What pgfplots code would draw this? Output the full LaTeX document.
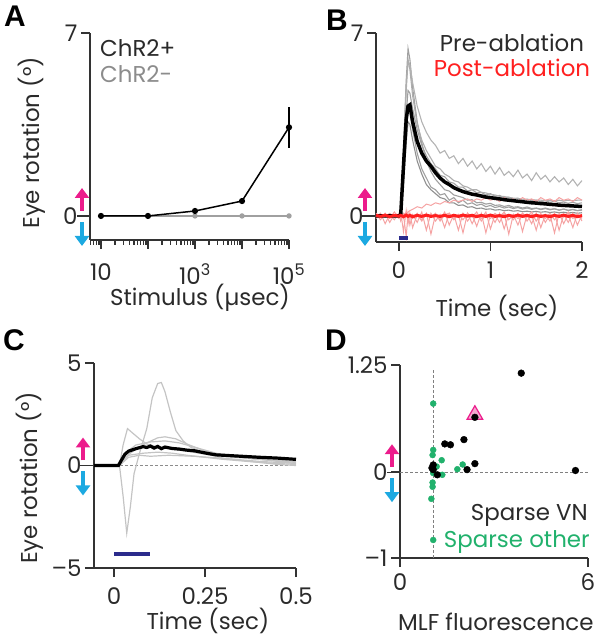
\documentclass[border=0pt]{standalone}
\usepackage{fontspec}
\setmainfont{Poppins}
\newfontfamily\letterfont{Liberation Sans}
\usepackage{pgfplots}
\usepackage{pgfplotstable}
\pgfplotsset{compat=1.18}
\usetikzlibrary{arrows.meta}

\definecolor{axc}{HTML}{333333}
\definecolor{txt}{HTML}{2A2A2A}
\definecolor{mag}{HTML}{EC1C8C}
\definecolor{cyn}{HTML}{1CA9E1}
\definecolor{navy}{HTML}{2B2B8C}
\definecolor{redln}{HTML}{FF2020}
\definecolor{ltred}{HTML}{F5A3A3}
\definecolor{grn}{HTML}{21B16C}
\definecolor{pinkfill}{HTML}{F5A9CF}
\definecolor{trace}{HTML}{A0A0A0}
\definecolor{ltrace}{HTML}{C4C4C4}

\newcommand\fs{\fontsize{23}{26}\selectfont}
\newcommand\lf{\letterfont\bfseries\fontsize{30}{32}\selectfont}

\pgfplotsset{
  panel/.style={
    scale only axis,
    anchor=south west,
    axis lines=left,
    axis line style={-, line width=1.3bp, axc},
    xmajorticks=true, ymajorticks=true,
    xtick align=outside, ytick align=outside,
    tick style={draw=axc, line width=1.5bp},
    tickwidth=9bp, subtickwidth=5bp,
    ticklabel style={font=\fs, text=txt},
    label style={font=\fs, text=txt},
    clip=false,
  },
}

% panel B: single traces (grey = pre, light red = post), means m / rm
\pgfplotstableread{
t      g1   g2   g3   g4   g5   g6   m    r1    r2    r3    r4    rm
-0.25  0    0    0    0    0    0    0    0.05  -0.10 0.10  -0.05 0.02
-0.20  0    0    0    0    0    0    0    -0.15 0.05  -0.05 0.10  -0.02
-0.15  0    0    0    0    0    0    0    0.10  -0.05 0.05  -0.30 0.03
-0.10  0    0    0    0    0    0    0    -0.25 0.10  -0.10 0.05  -0.03
-0.05  0    0    0    0    0    0    0    0.05  -0.05 0.15  -0.15 0.02
0.00   0    0    0    0    0    0    0    -0.10 0.05  -0.05 0.10  -0.01
0.02   0.1  0.1  0.05 0    0.1  0.05 0.05 0.15  -0.10 0.05  -0.20 0.02
0.05   2.5  2.2  1.8  1.2  2.4  1.5  1.9  -0.60 0.10  -0.10 0.05  -0.03
0.08   5.2  4.8  3.9  2.8  5.0  3.4  3.7  0.20  0.05  0.15  -0.80 0.03
0.10   6.4  5.9  4.8  3.6  6.0  4.2  4.2  -0.30 0.15  -0.20 0.10  -0.02
0.12   6.0  5.8  4.7  3.5  5.6  4.0  4.25 0.10  0.20  0.05  -0.35 0.02
0.15   4.9  5.1  4.1  2.9  4.6  3.3  3.6  -0.45 0.25  -0.10 0.05  -0.03
0.20   3.6  4.2  3.3  2.1  3.5  2.4  2.85 0.05  0.35  0.10  -0.25 0.02
0.25   2.8  3.6  2.7  1.6  2.9  1.8  2.4  -0.20 0.30  -0.15 0.15  -0.02
0.30   2.1  3.2  2.3  1.2  2.5  1.45 2.1  0.10  0.45  0.05  -0.55 0.03
0.35   1.7  2.9  2.0  1.0  2.2  1.1  1.9  -0.70 0.40  -0.05 0.10  -0.02
0.40   1.4  2.7  1.8  0.85 1.9  1.0  1.65 0.05  0.50  0.10  -0.20 0.01
0.45   1.2  2.4  1.55 0.7  1.8  0.8  1.45 -0.15 0.45  -0.20 0.05  -0.02
0.50   1.0  2.5  1.5  0.65 1.6  0.85 1.3  0.15  0.55  0.05  -0.45 0.02
0.55   0.95 2.2  1.3  0.5  1.5  0.6  1.2  -0.35 0.50  0.10  0.10  -0.03
0.60   0.8  2.3  1.25 0.5  1.35 0.7  1.08 0.05  0.60  -0.10 -0.15 0.02
0.65   0.75 2.0  1.1  0.4  1.3  0.5  1.0  -0.55 0.55  0.05  0.05  -0.02
0.70   0.7  2.2  1.1  0.42 1.15 0.6  0.93 0.10  0.60  -0.15 -0.65 0.03
0.75   0.6  1.9  0.95 0.33 1.1  0.45 0.88 -0.20 0.65  0.10  0.10  -0.01
0.80   0.62 2.1  1.0  0.35 1.0  0.5  0.83 0.05  0.55  -0.05 -0.30 0.02
0.85   0.5  1.8  0.88 0.28 1.0  0.4  0.8  -0.40 0.65  0.15  0.05  -0.03
0.90   0.52 2.0  0.9  0.3  0.9  0.45 0.76 0.10  0.60  -0.20 -0.10 0.02
0.95   0.45 1.7  0.8  0.25 0.88 0.35 0.72 -0.65 0.70  0.05  0.15  -0.02
1.00   0.48 1.9  0.85 0.27 0.82 0.4  0.7  0.05  0.60  -0.10 -0.50 0.03
1.05   0.4  1.6  0.75 0.22 0.8  0.32 0.67 -0.25 0.65  0.10  0.05  -0.02
1.10   0.42 1.85 0.78 0.24 0.75 0.36 0.65 0.10  0.55  -0.05 -0.25 0.01
1.15   0.36 1.55 0.7  0.2  0.74 0.3  0.62 -0.50 0.70  0.15  0.10  -0.03
1.20   0.4  1.7  0.72 0.22 0.7  0.34 0.6  0.05  0.60  -0.15 -0.70 0.02
1.25   0.33 1.5  0.65 0.18 0.68 0.28 0.58 -0.15 0.65  0.05  0.05  -0.02
1.30   0.35 1.75 0.68 0.2  0.66 0.32 0.56 0.10  0.55  -0.10 -0.35 0.03
1.35   0.3  1.45 0.6  0.16 0.64 0.26 0.54 -0.60 0.70  0.10  0.10  -0.02
1.40   0.34 1.6  0.64 0.18 0.63 0.3  0.52 0.05  0.60  -0.05 -0.20 0.02
1.45   0.28 1.35 0.58 0.15 0.62 0.25 0.5  -0.30 0.65  0.15  0.05  -0.03
1.50   0.3  1.65 0.6  0.17 0.6  0.29 0.49 0.10  0.55  -0.20 -0.55 0.02
1.55   0.26 1.4  0.55 0.14 0.6  0.24 0.47 -0.45 0.70  0.05  0.10  -0.02
1.60   0.3  1.55 0.58 0.16 0.58 0.28 0.46 0.05  0.60  -0.10 -0.25 0.01
1.65   0.25 1.3  0.52 0.13 0.6  0.23 0.44 -0.20 0.65  0.10  0.05  -0.03
1.70   0.27 1.5  0.56 0.15 0.58 0.27 0.43 0.10  0.55  -0.15 -0.65 0.02
1.75   0.22 1.3  0.5  0.12 0.6  0.22 0.41 -0.55 0.70  0.05  0.10  -0.02
1.80   0.26 1.45 0.53 0.14 0.57 0.26 0.4  0.05  0.60  -0.05 -0.30 0.03
1.85   0.21 1.2  0.48 0.11 0.6  0.21 0.39 -0.25 0.65  0.15  0.05  -0.02
1.90   0.24 1.4  0.52 0.13 0.58 0.25 0.38 0.10  0.55  -0.10 -0.45 0.02
1.95   0.2  1.15 0.47 0.1  0.6  0.2  0.37 -0.35 0.70  0.05  0.10  -0.03
2.00   0.22 1.35 0.5  0.12 0.6  0.24 0.36 0.05  0.60  -0.10 -0.20 0.01
}\tabB

\begin{document}
\begin{tikzpicture}
\useasboundingbox (0,0) rectangle (604bp,639bp);

% ---------------- A
\begin{axis}[panel, at={(90bp,399bp)}, width=199bp, height=207bp,
  xmode=log, xmin=5.84, xmax=1e5, ymin=-0.92, ymax=7,
  xtick={10,100,1000,10000,100000},
  minor xtick={6,7,8,9,20,30,40,50,60,70,80,90,200,300,400,500,600,700,800,900,
    2000,3000,4000,5000,6000,7000,8000,9000,20000,30000,40000,50000,60000,70000,80000,90000},
  xticklabels={10,,10\textsuperscript{3},,10\textsuperscript{5}},
  xticklabel style={yshift=-11bp},
  ytick={0,7}, yticklabels={{0\hspace{10bp}},7},
  xlabel={Stimulus (µsec)}, ylabel={Eye rotation (°)},
  xlabel style={at={(axis description cs:0.553,-0.28)}, anchor=center},
  ylabel style={at={(axis description cs:-0.291,0.469)}, anchor=center},
]
\addplot[trace, line width=1.3bp, mark=*, mark size=2bp]
  coordinates {(10,0)(100,0)(1000,0)(10000,0)(100000,0)};
\addplot[black, line width=1.5bp, mark=*, mark size=2.3bp,
  error bars/.cd, y dir=both, y explicit, error mark=none,
  error bar style={line width=1.5bp}]
  coordinates {(10,0)+-(0,0.03) (100,0)+-(0,0.03) (1000,0.19)+-(0,0.12)
               (10000,0.57)+-(0,0.1) (100000,3.39)+-(0,0.79)};
\node[anchor=west, inner sep=0, font=\fs, text=txt] at (rel axis cs:0.05,0.928) {ChR2+};
\node[anchor=west, inner sep=0, font=\fs, text=black!45] at (rel axis cs:0.05,0.80) {ChR2-};
\end{axis}

% ---------------- B
\begin{axis}[panel, at={(376bp,397bp)}, width=206bp, height=209bp,
  xmin=-0.25, xmax=2, ymin=-1, ymax=7,
  xtick={0,1,2}, xticklabels={0,1,2},
  xticklabel style={yshift=-7bp},
  ytick={0,7}, yticklabels={{0\hspace{13bp}},7},
  xlabel={Time (sec)},
  xlabel style={at={(axis description cs:0.587,-0.316)}, anchor=center},
]
\addplot[trace, line width=1.1bp] table[x=t, y=g1] {\tabB};
\addplot[trace!80, line width=1.1bp] table[x=t, y=g2] {\tabB};
\addplot[trace, line width=1.1bp] table[x=t, y=g3] {\tabB};
\addplot[trace!90!black, line width=1.1bp] table[x=t, y=g4] {\tabB};
\addplot[trace!85, line width=1.1bp] table[x=t, y=g5] {\tabB};
\addplot[trace, line width=1.1bp] table[x=t, y=g6] {\tabB};
\addplot[ltred, line width=1bp] table[x=t, y=r1] {\tabB};
\addplot[ltred, line width=1bp] table[x=t, y=r2] {\tabB};
\addplot[ltred, line width=1bp] table[x=t, y=r3] {\tabB};
\addplot[ltred, line width=1bp] table[x=t, y=r4] {\tabB};
\addplot[black, line width=3.5bp] table[x=t, y=m] {\tabB};
\addplot[redln, line width=3bp] table[x=t, y=rm] {\tabB};
\addplot[navy, line width=3.5bp] coordinates {(0,-0.84)(0.1,-0.84)};
\node[anchor=center, inner sep=0, font=\fs, text=txt] at (rel axis cs:0.66,0.952) {Pre-ablation};
\node[anchor=center, inner sep=0, font=\fs, text=redln] at (rel axis cs:0.66,0.833) {Post-ablation};
\end{axis}

% ---------------- C
\begin{axis}[panel, at={(94bp,71bp)}, width=202bp, height=205bp,
  xmin=-0.055, xmax=0.5, ymin=-5, ymax=5,
  xtick={0,0.25,0.5}, xticklabels={0,0.25,0.5},
  xticklabel style={yshift=-7bp},
  ytick={-5,0,5}, yticklabels={–5,{0\hspace{14bp}},5},
  xlabel={Time (sec)}, ylabel={Eye rotation (°)},
  xlabel style={at={(axis description cs:0.564,-0.259)}, anchor=center},
  ylabel style={at={(axis description cs:-0.317,0.439)}, anchor=center},
]
\addplot[black!45, line width=1.2bp, dash pattern=on 2.5bp off 2.5bp]
  coordinates {(-0.01,0)(0.5,0)};
\addplot[ltrace, line width=1.2bp] coordinates {(-0.055,0)(0.015,0)(0.025,-1.5)(0.035,-3.3)
  (0.045,-2.0)(0.055,-0.4)(0.07,0.6)(0.09,1.8)(0.105,3.3)(0.12,4.0)(0.13,4.05)(0.14,3.6)
  (0.155,2.6)(0.17,1.7)(0.19,1.2)(0.21,0.9)(0.25,0.6)(0.3,0.35)(0.35,0.25)(0.4,0.15)(0.45,0.05)(0.5,0.0)};
\addplot[ltrace, line width=1.2bp] coordinates {(-0.055,0)(0.015,0)(0.025,1.0)(0.037,1.8)(0.05,1.6)
  (0.07,1.3)(0.09,1.05)(0.12,0.9)(0.16,0.8)(0.2,0.7)(0.25,0.55)(0.3,0.45)(0.4,0.3)(0.5,0.2)};
\addplot[ltrace, line width=1.2bp] coordinates {(-0.055,0)(0.015,0)(0.03,0.4)(0.06,0.8)(0.09,1.1)
  (0.12,1.35)(0.14,1.4)(0.17,1.3)(0.2,1.05)(0.25,0.7)(0.3,0.5)(0.35,0.4)(0.4,0.3)(0.5,0.15)};
\addplot[ltrace, line width=1.2bp] coordinates {(-0.055,0)(0.015,0)(0.03,0.6)(0.06,1.0)(0.1,1.15)
  (0.14,1.2)(0.18,1.1)(0.22,0.9)(0.28,0.6)(0.35,0.4)(0.45,0.2)(0.5,0.1)};
\addplot[ltrace, line width=1.2bp] coordinates {(-0.055,0)(0.015,0)(0.04,0.5)(0.08,0.6)(0.12,0.65)
  (0.16,0.6)(0.2,0.5)(0.3,0.3)(0.4,0.15)(0.5,0.05)};
\addplot[ltrace, line width=1.2bp] coordinates {(-0.055,0)(0.015,0)(0.04,0.4)(0.07,0.5)(0.1,0.45)
  (0.15,0.5)(0.22,0.45)(0.3,0.35)(0.4,0.2)(0.5,0.1)};
\addplot[black, line width=3.2bp] coordinates {(-0.055,0)(0.012,0)(0.02,0.25)(0.03,0.55)(0.04,0.7)
  (0.06,0.82)(0.08,0.92)(0.09,0.88)(0.1,0.95)(0.11,0.85)(0.12,0.93)(0.13,0.82)(0.14,0.9)
  (0.16,0.83)(0.18,0.8)(0.2,0.75)(0.22,0.72)(0.24,0.65)(0.26,0.58)(0.28,0.52)(0.3,0.5)
  (0.35,0.45)(0.4,0.4)(0.45,0.36)(0.5,0.3)};
\addplot[navy, line width=4bp] coordinates {(0,-4.3)(0.1,-4.3)};
\end{axis}

% ---------------- D
\begin{axis}[panel, at={(400bp,81bp)}, width=188bp, height=193bp,
  xmin=0, xmax=6, ymin=-1, ymax=1.25,
  xtick={0,6}, xticklabels={0,6},
  xticklabel style={yshift=-3bp},
  ytick={-1,0,1.25}, yticklabels={–1,{0\hspace{9bp}},1.25},
  xlabel={MLF fluorescence},
  xlabel style={at={(axis description cs:0.51,-0.33)}, anchor=center},
]
\addplot[black!50, line width=1.2bp, dash pattern=on 2.5bp off 2.5bp] coordinates {(0,0)(6,0)};
\addplot[black!50, line width=1.2bp, dash pattern=on 2.5bp off 2.5bp] coordinates {(1.06,-1)(1.06,1.2)};
\addplot[only marks, mark=triangle*, mark size=9bp, mark options={draw=mag, fill=pinkfill, line width=1.2bp}]
  coordinates {(2.39,0.67)};
\addplot[only marks, mark=*, mark size=3bp, grn] coordinates {
  (1.06,0.80)(1.06,0.26)(1.04,0.20)(1.33,0.14)(1.17,0.066)(2.0,0.09)(1.83,0.035)
  (1.35,-0.03)(1.06,-0.01)(1.04,-0.12)(1.04,-0.17)(1.0,-0.31)(1.06,-0.79)};
\addplot[only marks, mark=*, mark size=3.4bp, black] coordinates {
  (3.87,1.155)(2.39,0.64)(2.04,0.38)(1.43,0.33)(1.61,0.32)(2.39,0.10)(2.14,0.03)
  (5.6,0.02)(1.06,0.085)(1.06,0.03)(1.19,-0.03)(1.02,0.05)};
\node[anchor=east, inner sep=0, font=\fs, text=txt] at (rel axis cs:1.0,0.223) {Sparse VN};
\node[anchor=east, inner sep=0, font=\fs, text=grn] at (rel axis cs:1.01,0.083) {Sparse other};
\end{axis}

% direction arrows beside each zero
\foreach \ax/\zy in {82/423, 365/423, 83/173.5, 392/166.8}{
  \draw[axc, line width=1.3bp] (\ax bp-5bp,\zy bp) -- (\ax bp+6bp,\zy bp);
  \draw[mag, line width=3.5bp, -{Triangle[width=14bp,length=10bp]}] (\ax bp,\zy bp+5bp) -- (\ax bp,\zy bp+28bp);
  \draw[cyn, line width=3.5bp, -{Triangle[width=14bp,length=10bp]}] (\ax bp,\zy bp-6bp) -- (\ax bp,\zy bp-30bp);
}

% panel letters
\node[font=\lf] at (15bp,623bp) {A};
\node[font=\lf] at (337bp,619bp) {B};
\node[font=\lf] at (14bp,299bp) {C};
\node[font=\lf] at (336bp,299bp) {D};
\end{tikzpicture}
\end{document}
